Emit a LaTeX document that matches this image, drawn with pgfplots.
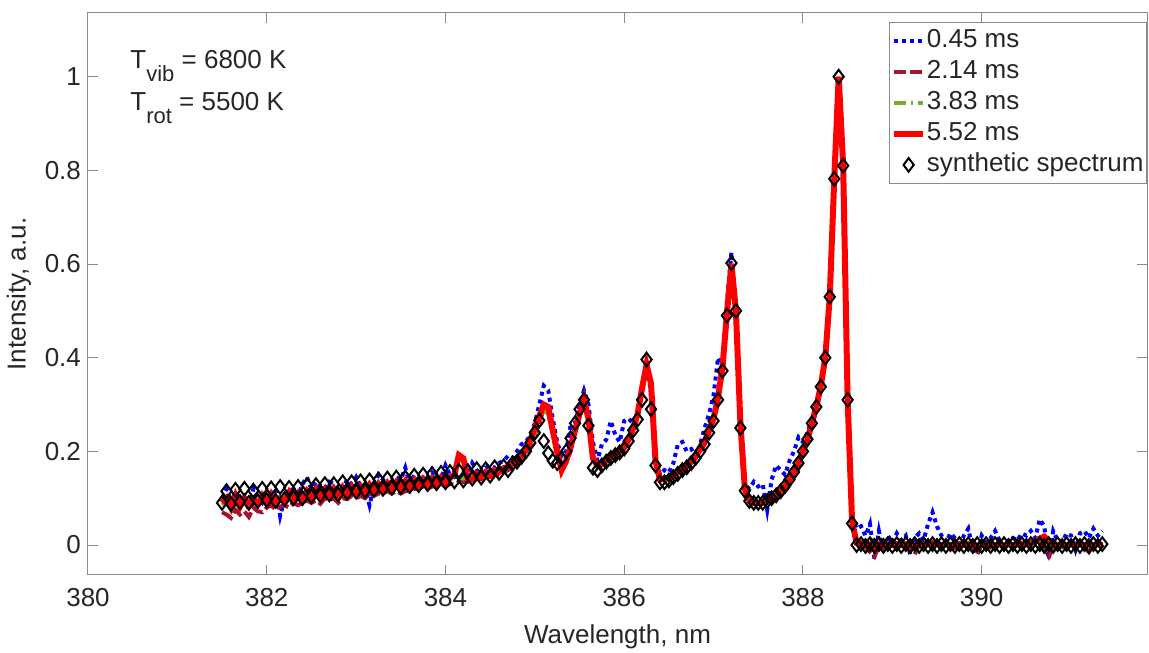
\documentclass[border=0pt]{standalone}
\usepackage{pgfplots}
\pgfplotsset{compat=1.18}
\usepackage{pgfplotstable}
\usepackage{fontspec}
\setmainfont{Liberation Sans}
\definecolor{mblue}{rgb}{0,0,1}
\definecolor{mdred}{HTML}{A2142F}
\definecolor{mgreen}{HTML}{77AC30}
\definecolor{axgray}{HTML}{8A8A8A}
\definecolor{txt}{HTML}{262626}
\pgfplotsset{mklegend/.style={legend image code/.code={\draw[##1] plot coordinates {(0.25cm,0cm)};}}}

\pgfplotstableread{
x syn a b c d
381.50 0.090 0.100 0.070 0.085 0.090
381.55 0.115 0.120 0.065 0.090 0.100
381.60 0.088 0.090 0.058 0.078 0.080
381.65 0.118 0.115 0.075 0.092 0.105
381.70 0.092 0.095 0.065 0.080 0.082
381.75 0.120 0.105 0.072 0.095 0.100
381.80 0.090 0.075 0.060 0.078 0.085
381.85 0.116 0.120 0.080 0.092 0.098
381.90 0.094 0.100 0.072 0.085 0.088
381.95 0.120 0.090 0.070 0.088 0.105
382.00 0.096 0.105 0.080 0.092 0.090
382.05 0.121 0.110 0.085 0.098 0.108
382.10 0.094 0.120 0.075 0.090 0.092
382.15 0.124 0.062 0.082 0.096 0.100
382.20 0.098 0.100 0.085 0.092 0.095
382.25 0.122 0.115 0.080 0.100 0.112
382.30 0.100 0.120 0.090 0.098 0.096
382.35 0.124 0.105 0.085 0.102 0.110
382.40 0.100 0.130 0.090 0.100 0.098
382.45 0.128 0.145 0.095 0.108 0.115
382.50 0.104 0.120 0.090 0.100 0.102
382.55 0.128 0.135 0.095 0.108 0.118
382.60 0.106 0.110 0.088 0.102 0.100
382.65 0.130 0.120 0.100 0.112 0.118
382.70 0.108 0.135 0.095 0.106 0.106
382.75 0.130 0.130 0.100 0.112 0.120
382.80 0.108 0.105 0.090 0.106 0.104
382.85 0.134 0.120 0.100 0.114 0.122
382.90 0.112 0.140 0.098 0.110 0.108
382.95 0.134 0.130 0.105 0.116 0.124
383.00 0.114 0.145 0.100 0.112 0.110
383.05 0.136 0.125 0.105 0.118 0.125
383.10 0.116 0.120 0.100 0.112 0.112
383.15 0.138 0.085 0.110 0.120 0.128
383.20 0.118 0.125 0.105 0.116 0.114
383.25 0.140 0.150 0.110 0.122 0.130
383.30 0.120 0.140 0.110 0.118 0.118
383.35 0.142 0.125 0.115 0.124 0.132
383.40 0.122 0.130 0.110 0.120 0.120
383.45 0.144 0.145 0.115 0.126 0.134
383.50 0.124 0.140 0.110 0.122 0.122
383.55 0.144 0.165 0.115 0.128 0.136
383.60 0.126 0.130 0.115 0.126 0.124
383.65 0.148 0.150 0.120 0.130 0.138
383.70 0.128 0.135 0.120 0.128 0.126
383.75 0.150 0.145 0.125 0.134 0.140
383.80 0.130 0.140 0.120 0.130 0.128
383.85 0.152 0.155 0.125 0.136 0.142
383.90 0.132 0.145 0.125 0.132 0.132
383.95 0.154 0.140 0.130 0.138 0.144
384.00 0.134 0.170 0.125 0.136 0.134
384.05 0.156 0.150 0.130 0.140 0.145
384.10 0.136 0.145 0.130 0.140 0.150
384.15 0.158 0.150 0.135 0.145 0.192
384.20 0.138 0.140 0.135 0.142 0.185
384.25 0.158 0.150 0.135 0.146 0.142
384.30 0.142 0.175 0.140 0.146 0.140
384.35 0.162 0.160 0.140 0.150 0.152
384.40 0.144 0.150 0.140 0.146 0.146
384.45 0.162 0.165 0.145 0.152 0.156
384.50 0.148 0.170 0.145 0.152 0.150
384.55 0.166 0.165 0.150 0.156 0.160
384.60 0.154 0.175 0.150 0.156 0.156
384.65 0.168 0.180 0.155 0.162 0.164
384.70 0.160 0.190 0.160 0.166 0.166
384.75 0.174 0.185 0.165 0.172 0.174
384.80 0.178 0.200 0.170 0.176 0.180
384.85 0.188 0.215 0.180 0.186 0.190
384.90 0.200 0.220 0.195 0.200 0.205
384.95 0.218 0.235 0.210 0.215 0.225
385.00 0.240 0.260 0.235 0.240 0.250
385.05 0.266 0.300 0.262 0.265 0.275
385.10 0.222 0.340 0.290 0.290 0.300
385.15 0.196 0.330 0.280 0.280 0.295
385.20 0.180 0.270 0.240 0.240 0.245
385.25 0.175 0.220 0.190 0.195 0.200
385.30 0.185 0.190 0.160 0.165 0.160
385.35 0.200 0.200 0.175 0.180 0.180
385.40 0.228 0.255 0.200 0.210 0.210
385.45 0.260 0.260 0.240 0.245 0.245
385.50 0.290 0.300 0.275 0.280 0.280
385.55 0.310 0.330 0.300 0.305 0.310
385.60 0.255 0.300 0.270 0.270 0.270
385.65 0.165 0.220 0.190 0.185 0.185
385.70 0.160 0.180 0.170 0.170 0.170
385.75 0.170 0.215 0.170 0.175 0.175
385.80 0.178 0.225 0.180 0.180 0.180
385.85 0.186 0.265 0.185 0.186 0.190
385.90 0.192 0.235 0.190 0.192 0.195
385.95 0.198 0.220 0.195 0.200 0.200
386.00 0.206 0.265 0.205 0.210 0.210
386.05 0.222 0.270 0.220 0.225 0.225
386.10 0.245 0.260 0.245 0.250 0.250
386.15 0.268 0.280 0.275 0.280 0.280
386.20 0.310 0.340 0.330 0.335 0.335
386.25 0.396 0.370 0.380 0.385 0.385
386.30 0.290 0.330 0.340 0.340 0.345
386.35 0.170 0.190 0.180 0.180 0.180
386.40 0.134 0.150 0.140 0.140 0.140
386.45 0.134 0.160 0.140 0.140 0.140
386.50 0.138 0.155 0.140 0.145 0.145
386.55 0.145 0.175 0.145 0.150 0.150
386.60 0.152 0.215 0.150 0.155 0.155
386.65 0.160 0.220 0.160 0.160 0.160
386.70 0.166 0.200 0.165 0.170 0.170
386.75 0.175 0.205 0.175 0.180 0.180
386.80 0.186 0.190 0.185 0.190 0.190
386.85 0.200 0.215 0.200 0.205 0.205
386.90 0.215 0.250 0.215 0.220 0.220
386.95 0.240 0.280 0.240 0.245 0.245
387.00 0.265 0.320 0.265 0.270 0.270
387.05 0.310 0.400 0.310 0.315 0.315
387.10 0.372 0.380 0.375 0.380 0.380
387.15 0.490 0.520 0.490 0.495 0.495
387.20 0.602 0.625 0.600 0.600 0.600
387.25 0.500 0.480 0.500 0.500 0.500
387.30 0.250 0.270 0.260 0.260 0.260
387.35 0.116 0.130 0.120 0.120 0.120
387.40 0.094 0.120 0.095 0.095 0.095
387.45 0.090 0.135 0.090 0.090 0.090
387.50 0.090 0.125 0.090 0.090 0.090
387.55 0.090 0.130 0.090 0.090 0.090
387.60 0.094 0.075 0.095 0.095 0.095
387.65 0.100 0.140 0.100 0.100 0.100
387.70 0.106 0.170 0.105 0.105 0.105
387.75 0.115 0.160 0.115 0.115 0.115
387.80 0.126 0.150 0.125 0.125 0.125
387.85 0.140 0.180 0.140 0.140 0.140
387.90 0.156 0.200 0.155 0.155 0.155
387.95 0.175 0.230 0.175 0.175 0.175
388.00 0.200 0.220 0.200 0.200 0.200
388.05 0.226 0.240 0.225 0.225 0.225
388.10 0.260 0.270 0.260 0.260 0.260
388.15 0.295 0.300 0.295 0.295 0.295
388.20 0.338 0.345 0.340 0.340 0.340
388.25 0.400 0.410 0.400 0.400 0.400
388.30 0.530 0.530 0.530 0.530 0.530
388.35 0.782 0.760 0.780 0.780 0.780
388.40 1.000 0.980 1.000 1.000 1.000
388.45 0.810 0.820 0.810 0.810 0.810
388.50 0.310 0.330 0.310 0.310 0.310
388.55 0.046 0.060 0.050 0.050 0.050
388.60 0.000 0.035 0.010 0.005 0.005
388.65 0.002 0.040 0.005 0.003 0.004
388.70 -0.002 0.020 -0.005 0.000 0.000
388.75 0.002 0.045 -0.015 0.002 0.002
388.80 -0.002 -0.030 -0.025 -0.005 -0.003
388.85 0.002 0.030 0.000 0.002 0.002
388.90 -0.002 -0.015 -0.010 0.000 0.000
388.95 0.002 0.020 0.005 0.003 0.002
389.00 -0.002 0.005 0.000 0.000 0.000
389.05 0.002 0.025 0.003 0.002 0.002
389.10 -0.002 0.010 -0.008 -0.002 0.000
389.15 0.002 0.020 0.000 0.000 0.002
389.20 -0.002 -0.020 -0.012 -0.003 -0.002
389.25 0.002 0.015 -0.020 -0.004 0.000
389.30 -0.002 0.025 0.000 0.000 0.002
389.35 0.002 0.010 0.005 0.002 0.000
389.40 -0.002 0.045 0.002 0.004 0.003
389.45 0.002 0.070 0.005 0.005 0.004
389.50 -0.002 0.040 0.000 0.002 0.002
389.55 0.002 0.020 -0.005 0.000 0.000
389.60 -0.002 0.005 0.000 0.000 0.002
389.65 0.002 0.025 0.003 0.002 0.000
389.70 -0.002 0.015 -0.006 -0.002 0.000
389.75 0.002 -0.005 0.000 0.000 0.002
389.80 -0.002 0.020 -0.004 0.002 0.000
389.85 0.002 0.035 0.002 0.003 0.002
389.90 -0.002 -0.010 -0.010 -0.003 0.000
389.95 0.002 -0.020 -0.020 -0.004 -0.002
390.00 -0.002 0.020 0.000 0.000 0.002
390.05 0.002 0.005 0.004 0.002 0.000
390.10 -0.002 0.015 -0.005 0.000 0.002
390.15 0.002 0.030 0.000 0.002 0.000
390.20 -0.002 0.010 -0.006 0.000 0.002
390.25 0.002 -0.005 0.000 -0.002 0.000
390.30 -0.002 0.005 0.004 0.000 0.002
390.35 0.002 0.015 -0.004 0.002 0.000
390.40 -0.002 0.010 0.000 0.000 0.002
390.45 0.002 0.025 0.003 0.002 0.003
390.50 -0.002 0.020 -0.004 0.000 0.002
390.55 0.002 0.030 0.002 0.003 0.004
390.60 -0.002 0.015 0.006 0.004 0.008
390.65 0.002 0.055 0.010 0.008 0.014
390.70 -0.002 0.040 -0.010 0.006 0.018
390.75 0.002 -0.030 -0.025 0.000 0.008
390.80 -0.002 0.030 -0.005 0.000 0.002
390.85 0.002 0.010 0.000 0.002 0.000
390.90 -0.002 0.005 -0.004 0.000 0.002
390.95 0.002 0.025 0.002 0.002 0.000
391.00 -0.002 0.020 0.000 0.000 0.002
391.05 0.002 -0.010 -0.006 -0.002 0.000
391.10 -0.002 0.025 0.003 0.002 0.002
391.15 0.002 0.030 -0.004 0.000 0.000
391.20 -0.002 0.015 -0.015 -0.002 0.002
391.25 0.002 0.035 0.000 0.002 0.000
391.30 -0.002 0.020 0.004 0.002 0.002
391.35 0.002 0.030 0.000 0.000 0.000
}\spec

\begin{document}
\begin{tikzpicture}
\begin{axis}[
  scale only axis, width=529.5pt, height=281pt,
  xmin=380, xmax=391.85, ymin=-0.064, ymax=1.136,
  xtick={380,382,384,386,388,390},
  ytick={0,0.2,0.4,0.6,0.8,1},
  tick align=inside, xtick pos=both, ytick pos=both,
  xticklabel pos=lower, yticklabel pos=left,
  major tick length=5pt,
  axis line style={axgray, line width=0.5pt},
  tick style={axgray, line width=0.5pt},
  /pgf/number format/assume math mode=true,
  tick label style={font=\fontsize{13}{15}\selectfont, text=txt},
  xticklabel style={yshift=-3pt},
  label style={font=\fontsize{13}{15}\selectfont, text=txt},
  xlabel style={yshift=-2pt},
  xlabel={Wavelength, nm},
  ylabel={Intensity, a.u.},
  legend cell align=left,
  legend style={at={(1,1)}, anchor=north east, yshift=-4.5pt,
    draw=axgray, fill=white, font=\fontsize{13}{15}\selectfont, text=txt,
    inner xsep=1pt, inner ysep=1.5pt,
    nodes={inner xsep=0.5pt, inner ysep=1.5pt, text height=9.5pt, text depth=3pt}},
  legend image code/.code={\draw[#1] (0cm,0cm) -- (0.5cm,0cm);},
]
\addplot[mblue, line width=2pt, dash pattern=on 2pt off 2pt] table[x=x,y=a]{\spec};
\addlegendentry{0.45 ms}
\addplot[mdred, line width=2pt, dash pattern=on 6pt off 2pt] table[x=x,y=b]{\spec};
\addlegendentry{2.14 ms}
\addplot[mgreen, line width=2pt, dash pattern=on 6pt off 2.5pt on 1pt off 2.5pt] table[x=x,y=c]{\spec};
\addlegendentry{3.83 ms}
\addplot[red, line width=3pt] table[x=x,y=d]{\spec};
\addlegendentry{5.52 ms}
\addplot[only marks, mark=diamond, mark size=3.4pt, mark options={black, line width=1pt, fill=none}, mklegend] table[x=x,y=syn]{\spec};
\addlegendentry{synthetic spectrum}
\node[anchor=base west, font=\fontsize{13}{15}\selectfont, text=txt, inner sep=0pt]
  at (axis description cs:0.0397,0.902) {T\raisebox{-6.5pt}{\fontsize{11}{13}\selectfont vib} = 6800 K};
\node[anchor=base west, font=\fontsize{13}{15}\selectfont, text=txt, inner sep=0pt]
  at (axis description cs:0.0397,0.827) {T\raisebox{-6.5pt}{\fontsize{11}{13}\selectfont rot} = 5500 K};
\end{axis}
\pgfresetboundingbox
\path[use as bounding box] ([shift={(-44pt,-38.5pt)}]current axis.south west) rectangle ([shift={(1pt,6.5pt)}]current axis.north east);
\end{tikzpicture}
\end{document}
